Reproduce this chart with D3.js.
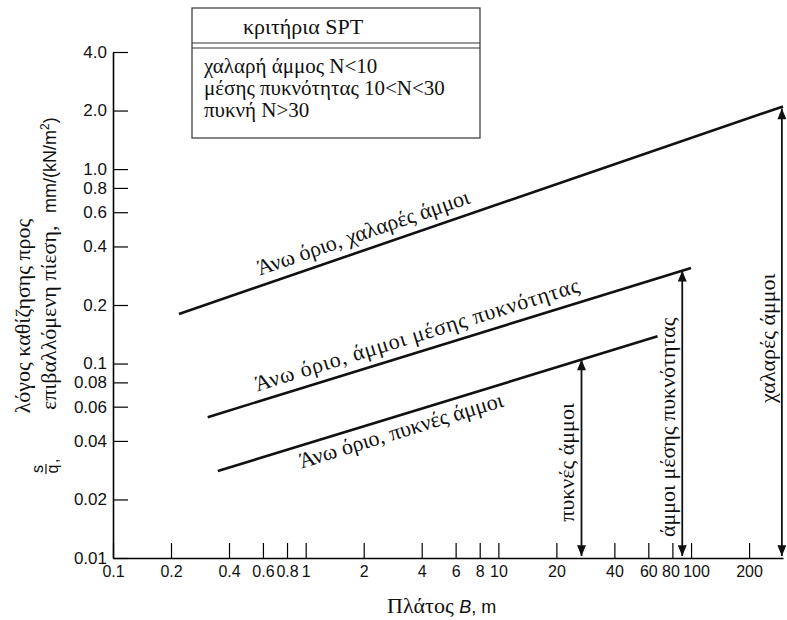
<!DOCTYPE html>
<html>

<head>
  <meta charset="UTF-8" />
  <title>Settlement ratio vs footing width</title>
  <style>
    body {
      margin: 0;
      background: white;
    }

    .tick text {
      font-family: "Liberation Sans", Arial, sans-serif;
      fill: #111;
    }

    .serif {
      font-family: "Liberation Serif", "DejaVu Serif", serif;
      fill: #111;
    }

    .sans {
      font-family: "Liberation Sans", Arial, sans-serif;
      fill: #111;
    }
  </style>
  <script src="https://cdn.jsdelivr.net/npm/d3@7"></script>
</head>

<body>
  <script>
    /* Data */
    let xTicks = [0.1, 0.2, 0.4, 0.6, 0.8, 1, 2, 4, 6, 8, 10, 20, 40, 60, 80, 100, 200],
      yTicks = [0.01, 0.02, 0.04, 0.06, 0.08, 0.1, 0.2, 0.4, 0.6, 0.8, 1.0, 2.0, 4.0],
      yTickLabels = ["0.01", "0.02", "0.04", "0.06", "0.08", "0.1", "0.2", "0.4", "0.6", "0.8", "1.0", "2.0", "4.0"];

    /* upper-limit lines: width B (m) and s/q' at the two ends */
    let limitNames = ["loose", "medium", "dense"],
      limitB = [[0.22, 300], [0.31, 100], [0.35, 67]],
      limitS = [[0.18, 2.1], [0.053, 0.31], [0.028, 0.138]],
      limitLabels = ["Άνω όριο, χαλαρές άμμοι", "Άνω όριο, άμμοι μέσης πυκνότητας", "Άνω όριο, πυκνές άμμοι"],
      limitLabelB = [0.6, 0.58, 0.88];

    /* double arrows marking the range of each sand */
    let arrowB = [296, 90, 27],
      arrowTop = [2.05, 0.3, 0.105],
      arrowLabels = ["χαλαρές άμμοι", "άμμοι μέσης πυκνότητας", "πυκνές άμμοι"],
      arrowLabelS = [0.135, 0.047, 0.031];

    let legendTitle = "κριτήρια SPT",
      legendRows = ["χαλαρή άμμος N<10", "μέσης πυκνότητας 10<N<30", "πυκνή N>30"];

    let width = 787,
      height = 620,
      margin = { top: 52, right: 4, bottom: 62, left: 113 };

    let svg = d3.select("body")
      .append("svg")
      .attr("width", width)
      .attr("height", height);

    /* Scales */
    let xScale = d3.scaleLog()
      .domain([0.1, 300])
      .range([margin.left, width - margin.right]);

    let yScale = d3.scaleLog()
      .domain([0.01, 4])
      .range([height - margin.bottom, margin.top]);

    /* Axes */
    svg.append("g")
      .attr("id", "x-axis")
      .attr("transform", `translate(0,${height - margin.bottom})`)
      .call(d3.axisBottom(xScale)
        .tickValues(xTicks)
        .tickFormat(d3.format("~g"))
        .tickSizeInner(-15)
        .tickSizeOuter(0)
        .tickPadding(8))
      .call(g => g.select(".domain").attr("stroke-width", 1.6))
      .call(g => g.selectAll(".tick text").attr("font-size", 16))
      /* the scan puts these two labels a little apart */
      .call(g => g.selectAll(".tick text").attr("dx", d => d == 100 ? 5 : d == 80 ? -2 : 0));

    svg.append("g")
      .attr("id", "y-axis")
      .attr("transform", `translate(${margin.left},0)`)
      .call(d3.axisLeft(yScale)
        .tickValues(yTicks)
        .tickFormat((d, i) => yTickLabels[i])
        .tickSizeInner(-15)
        .tickSizeOuter(0)
        .tickPadding(6))
      .call(g => g.select(".domain").attr("stroke-width", 1.6))
      .call(g => g.selectAll(".tick text").attr("font-size", 17));

    svg.selectAll(".tick line").attr("stroke-width", 1.2);

    /* Upper-limit lines */
    let lineGen = d3.line()
      .x(d => xScale(d[0]))
      .y(d => yScale(d[1]));

    limitNames.forEach((name, i) => {
      let pts = [[limitB[i][0], limitS[i][0]], [limitB[i][1], limitS[i][1]]];
      svg.append("path")
        .attr("class", "limit " + name)
        .attr("d", lineGen(pts))
        .attr("fill", "none")
        .attr("stroke", "#111")
        .attr("stroke-width", 2.6);

      /* label along the line */
      let x0 = xScale(pts[0][0]), y0 = yScale(pts[0][1]),
        x1 = xScale(pts[1][0]), y1 = yScale(pts[1][1]),
        angle = Math.atan2(y1 - y0, x1 - x0) * 180 / Math.PI,
        lx = xScale(limitLabelB[i]),
        ly = y0 + (lx - x0) * (y1 - y0) / (x1 - x0);

      svg.append("text")
        .attr("class", "serif")
        .attr("font-size", 22)
        .attr("letter-spacing", name == "medium" ? 0.8 : 0)
        .attr("transform", `translate(${lx},${ly}) rotate(${angle})`)
        .attr("dy", name == "dense" ? 22 : -10)
        .text(limitLabels[i]);
    });

    /* Arrows */
    let defs = svg.append("defs");
    defs.append("marker")
      .attr("id", "head")
      .attr("viewBox", "0 0 12 10")
      .attr("refX", 12)
      .attr("refY", 5)
      .attr("markerWidth", 12)
      .attr("markerHeight", 9)
      .attr("markerUnits", "userSpaceOnUse")
      .attr("orient", "auto-start-reverse")
      .append("path")
      .attr("d", "M0,0 L12,5 L0,10 Z")
      .attr("fill", "#111");

    arrowB.forEach((b, i) => {
      let ax = xScale(b);
      svg.append("line")
        .attr("x1", ax)
        .attr("x2", ax)
        .attr("y1", yScale(arrowTop[i]))
        .attr("y2", yScale(0.01) - 2)
        .attr("stroke", "#111")
        .attr("stroke-width", 1.8)
        .attr("marker-start", "url(#head)")
        .attr("marker-end", "url(#head)");

      svg.append("text")
        .attr("class", "serif")
        .attr("font-size", 22)
        .attr("text-anchor", "middle")
        .attr("transform", `translate(${ax - 7},${yScale(arrowLabelS[i])}) rotate(-90)`)
        .text(arrowLabels[i]);
    });

    /* Legend box */
    let legend = svg.append("g").attr("id", "legend");
    legend.append("rect")
      .attr("x", 192)
      .attr("y", 8)
      .attr("width", 288)
      .attr("height", 130)
      .attr("fill", "white")
      .attr("stroke", "#333")
      .attr("stroke-width", 1.2);
    legend.selectAll(".sep")
      .data([43, 48])
      .enter()
      .append("line")
      .attr("class", "sep")
      .attr("x1", 192)
      .attr("x2", 480)
      .attr("y1", d => d)
      .attr("y2", d => d)
      .attr("stroke", "#333")
      .attr("stroke-width", 1.2);
    legend.append("text")
      .attr("class", "serif")
      .attr("font-size", 22)
      .attr("x", 243)
      .attr("y", 34)
      .text(legendTitle);
    legend.selectAll(".row")
      .data(legendRows)
      .enter()
      .append("text")
      .attr("class", "serif row")
      .attr("font-size", 21)
      .attr("x", 204)
      .attr("y", (d, i) => 73 + i * 22)
      .text(d => d);

    /* Y axis title */
    svg.append("text")
      .attr("class", "serif")
      .attr("font-size", 22)
      .attr("text-anchor", "middle")
      .attr("transform", "translate(30,316) rotate(-90)")
      .text("λόγος καθίζησης προς");

    svg.append("text")
      .attr("class", "serif")
      .attr("font-size", 22)
      .attr("transform", "translate(56,410) rotate(-90)")
      .text("επιβαλλόμενη πίεση,");

    let unit = svg.append("text")
      .attr("class", "sans")
      .attr("font-size", 18)
      .attr("transform", "translate(56,213) rotate(-90)");
    unit.append("tspan").text("mm/(kN/m");
    unit.append("tspan").attr("font-size", 12).attr("dy", -7).text("2");
    unit.append("tspan").attr("dy", 7).text(")");

    /* s over q' */
    let frac = svg.append("g")
      .attr("transform", "translate(47,469) rotate(-90)");
    frac.append("text")
      .attr("class", "sans")
      .attr("font-size", 16)
      .attr("text-anchor", "middle")
      .attr("y", -4)
      .text("s");
    frac.append("line")
      .attr("x1", -5)
      .attr("x2", 5)
      .attr("y1", -1)
      .attr("y2", -1)
      .attr("stroke", "#111")
      .attr("stroke-width", 1.2);
    frac.append("text")
      .attr("class", "sans")
      .attr("font-size", 16)
      .attr("text-anchor", "middle")
      .attr("y", 11)
      .text("q");
    frac.append("text")
      .attr("class", "sans")
      .attr("font-size", 16)
      .attr("x", 6)
      .attr("y", 11)
      .text(",");

    /* X axis title */
    let xTitle = svg.append("text")
      .attr("x", 387)
      .attr("y", 613);
    xTitle.append("tspan").attr("class", "serif").attr("font-size", 22).text("Πλάτος ");
    xTitle.append("tspan").attr("class", "sans").attr("font-size", 18).attr("font-style", "italic").text("B");
    xTitle.append("tspan").attr("class", "sans").attr("font-size", 18).text(", m");
  </script>
</body>

</html>
